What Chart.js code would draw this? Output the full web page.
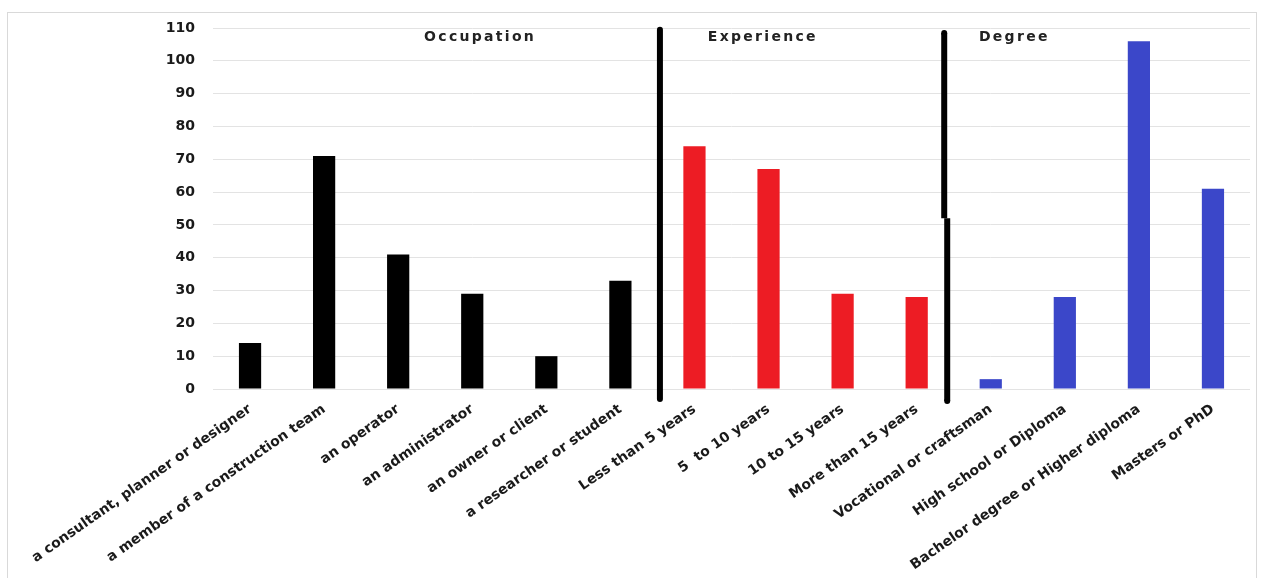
<!DOCTYPE html>
<html>
<head>
<meta charset="utf-8">
<script src="https://cdn.jsdelivr.net/npm/chart.js@4.4.1/dist/chart.umd.min.js"></script>
<style>
  html, body { margin: 0; padding: 0; background: #fff; }
  #wrap { width: 1261px; height: 578px; position: relative; }
</style>
</head>
<body>
<div id="wrap"><canvas id="surveyChart"></canvas></div>
<script>
const categories = [
  'a consultant, planner or designer',
  'a member of a construction team',
  'an operator',
  'an administrator',
  'an owner or client',
  'a researcher or student',
  'Less than 5 years',
  '5  to 10 years',
  '10 to 15 years',
  'More than 15 years',
  'Vocational or craftsman',
  'High school or Diploma',
  'Bachelor degree or Higher diploma',
  'Masters or PhD'
];
const counts = [14, 71, 41, 29, 10, 33, 74, 67, 29, 28, 3, 28, 106, 61];

const groupNames = ['Occupation', 'Experience', 'Degree'];
const groupSizes = [6, 4, 4];
const groupColors = ['#000000', '#ed1c24', '#3b47c9'];

const yTicks = [0, 10, 20, 30, 40, 50, 60, 70, 80, 90, 100, 110];

const FONT = '"DejaVu Sans", "Liberation Sans", Arial, sans-serif';

// one colour per bar, taken from its group
const barColors = [];
groupSizes.forEach((n, g) => {
  for (let i = 0; i < n; i++) barColors.push(groupColors[g]);
});

// frame, group separators and group titles
const decorPlugin = {
  id: 'decor',
  beforeDraw(chart) {
    const ctx = chart.ctx;
    ctx.save();
    ctx.strokeStyle = '#d9d9d9';
    ctx.lineWidth = 1;
    ctx.strokeRect(7.5, 12.5, chart.width - 12, chart.height - 8);
    ctx.restore();
  },
  afterDatasetsDraw(chart) {
    const ctx = chart.ctx;
    const x = chart.scales.x;
    const y = chart.scales.y;
    ctx.save();
    ctx.strokeStyle = '#000';
    ctx.lineWidth = 6;
    ctx.lineCap = 'round';

    // separator between Occupation and Experience
    const s1 = (x.getPixelForValue(5) + x.getPixelForValue(6)) / 2 + 2.5;
    ctx.beginPath();
    ctx.moveTo(s1, y.getPixelForValue(109.5));
    ctx.lineTo(s1, y.bottom + 10);
    ctx.stroke();

    // separator between Experience and Degree (drawn in two pieces)
    const s2 = (x.getPixelForValue(9) + x.getPixelForValue(10)) / 2 - 9.5;
    const brk = y.getPixelForValue(52);
    ctx.lineCap = 'butt';
    ctx.beginPath();
    ctx.moveTo(s2, y.getPixelForValue(108.5));
    ctx.lineTo(s2, brk);
    ctx.stroke();
    ctx.beginPath();
    ctx.moveTo(s2 + 3, brk);
    ctx.lineTo(s2 + 3, y.bottom + 12);
    ctx.stroke();
    ctx.fillStyle = '#000';
    [[s2, y.getPixelForValue(108.5)], [s2 + 3, y.bottom + 12]].forEach(p => {
      ctx.beginPath();
      ctx.arc(p[0], p[1], 3, 0, Math.PI * 2);
      ctx.fill();
    });

    // group titles
    const titleAt = [2.35, 6.18, 9.84];
    ctx.fillStyle = '#222';
    ctx.font = 'bold 14px ' + FONT;
    ctx.letterSpacing = '2.3px';
    ctx.textAlign = 'left';
    ctx.textBaseline = 'middle';
    groupNames.forEach((name, i) => {
      ctx.fillText(name, x.getPixelForValue(titleAt[i]), y.getPixelForValue(107));
    });
    ctx.restore();
  }
};

const ctx = document.getElementById('surveyChart').getContext('2d');
new Chart(ctx, {
  type: 'bar',
  data: {
    labels: categories,
    datasets: [{
      data: counts,
      backgroundColor: barColors,
      borderWidth: 0,
      barPercentage: 0.3,
      categoryPercentage: 1
    }]
  },
  options: {
    responsive: true,
    maintainAspectRatio: false,
    animation: false,
    layout: {
      padding: { left: 10, right: 11, top: 28, bottom: 6 }
    },
    plugins: {
      legend: { display: false },
      tooltip: { enabled: false }
    },
    scales: {
      x: {
        grid: { display: false },
        border: { display: false },
        afterFit: axis => { axis.height = 183; },
        ticks: {
          autoSkip: false,
          minRotation: 35,
          maxRotation: 35,
          padding: 4,
          color: '#1a1a1a',
          font: { family: FONT, size: 14, weight: 'bold' }
        }
      },
      y: {
        min: 0,
        max: 110,
        afterBuildTicks: axis => {
          axis.ticks = yTicks.map(v => ({ value: v }));
        },
        afterFit: axis => { axis.width = 203; },
        grid: { color: '#e3e3e3', lineWidth: 1, drawTicks: false },
        border: { display: false },
        ticks: {
          padding: 18,
          color: '#1a1a1a',
          font: { family: FONT, size: 14, weight: 'bold' }
        }
      }
    }
  },
  plugins: [decorPlugin]
});
</script>
</body>
</html>
